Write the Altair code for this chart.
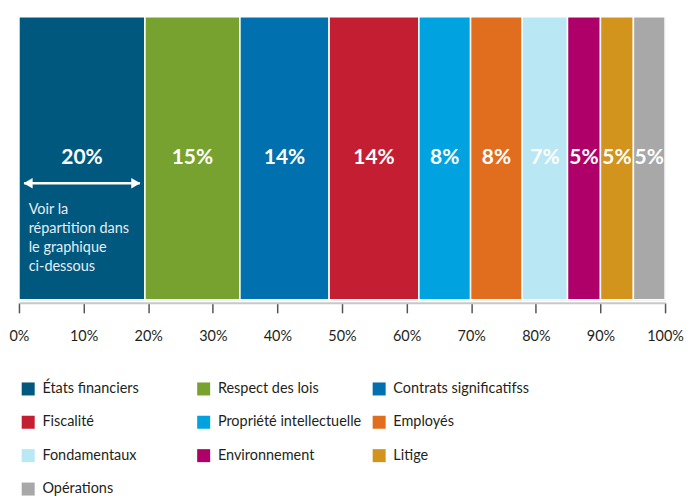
import altair as alt
import pandas as pd

categories = ["États financiers", "Respect des lois", "Contrats significatifss", "Fiscalité",
              "Propriété intellectuelle", "Employés", "Fondamentaux", "Environnement",
              "Litige", "Opérations"]
values = [19.5, 14.7, 13.8, 13.9, 8.0, 8.0, 7.0, 5.1, 5.1, 4.9]
labels = ["20%", "15%", "14%", "14%", "8%", "8%", "7%", "5%", "5%", "5%"]
colors = ["#00587F", "#78A22F", "#0071AE", "#C41E33", "#00A3E0", "#E16E1F",
          "#B9E7F3", "#AF006A", "#D2941D", "#A8A8A9"]
tick_values = [0, 10, 20, 30, 40, 50, 60, 70, 80, 90, 100]

note_text = "Voir la\nrépartition dans\nle graphique\nci-dessous"
arrow_from, arrow_to, arrow_level = 0.8, 18.7, 0.412
note_x, note_y = 1.5, 0.343

FONT = "Lato, sans-serif"

starts = []
acc = 0.0
for v in values:
    starts.append(acc)
    acc += v
df = pd.DataFrame({
    "cat": categories,
    "start": starts,
    "end": [s + v for s, v in zip(starts, values)],
    "label": labels,
    "order": list(range(len(categories))),
})
df["mid"] = (df["start"] + df["end"]) / 2
df["y0"] = 0.0
df["y1"] = 1.0
df["ym"] = 0.5

xscale = alt.Scale(domain=[0, 100], nice=False, zero=False)
yscale = alt.Scale(domain=[0, 1], nice=False, zero=False)

color = alt.Color(
    "cat:N",
    scale=alt.Scale(domain=categories, range=colors),
    sort=categories,
    legend=alt.Legend(
        title=None, orient="none", legendX=2, legendY=366, columns=3,
        direction="horizontal", gridAlign="all", columnPadding=10, rowPadding=18.5,
        symbolType="square", symbolSize=170, symbolStrokeWidth=0, symbolOpacity=1,
        symbolOffset=0, labelOffset=7,
        labelFont=FONT, labelFontSize=14.5, labelColor="#231F20", labelLimit=300,
    ),
)

bars = alt.Chart(df).mark_rect(stroke="white", strokeWidth=1.5).encode(
    x=alt.X("start:Q", scale=xscale, axis=alt.Axis(
        title=None, values=tick_values, format=".0f", labelExpr="datum.value + '%'",
        grid=False, offset=3, domainColor="#C8C8C8", domainWidth=2,
        tickColor="#555555", tickSize=10, tickWidth=1.5,
        labelFont=FONT, labelFontSize=14.5, labelColor="#231F20", labelPadding=17,
        labelFlush=False)),
    x2="end:Q",
    y=alt.Y("y0:Q", scale=yscale, axis=None),
    y2="y1:Q",
    color=color,
    order="order:Q",
)

text = alt.Chart(df).mark_text(
    color="white", fontWeight="bold", fontSize=21, font=FONT, align="center", baseline="middle"
).encode(x=alt.X("mid:Q", scale=xscale), y=alt.Y("ym:Q", scale=yscale), text="label:N")

arrow_df = pd.DataFrame({"x": [arrow_from], "x2": [arrow_to], "y": [arrow_level]})
arrow_line = alt.Chart(arrow_df).mark_rule(color="white", strokeWidth=2.5).encode(
    x=alt.X("x:Q", scale=xscale), x2="x2:Q", y=alt.Y("y:Q", scale=yscale))
head_l = alt.Chart(arrow_df).mark_point(shape="triangle-left", filled=True, color="white",
                                        size=110, opacity=1, xOffset=4).encode(
    x=alt.X("x:Q", scale=xscale), y=alt.Y("y:Q", scale=yscale))
head_r = alt.Chart(arrow_df).mark_point(shape="triangle-right", filled=True, color="white",
                                        size=110, opacity=1, xOffset=-4).encode(
    x=alt.X("x2:Q", scale=xscale), y=alt.Y("y:Q", scale=yscale))

note_df = pd.DataFrame({"x": [note_x], "y": [note_y], "t": [note_text]})
note = alt.Chart(note_df).mark_text(
    color="#E6EEF3", fontSize=14.5, font=FONT, align="left", baseline="top",
    lineBreak="\n", lineHeight=19
).encode(x=alt.X("x:Q", scale=xscale), y=alt.Y("y:Q", scale=yscale), text="t:N")

chart = alt.layer(bars, text, arrow_line, head_l, head_r, note).properties(
    width=648, height=284,
    padding={"left": 0, "top": 7, "right": 0, "bottom": 0},
).configure_view(stroke=None).configure(background="white")

chart.save("out.html", embed_options={"renderer": "svg", "actions": False})
